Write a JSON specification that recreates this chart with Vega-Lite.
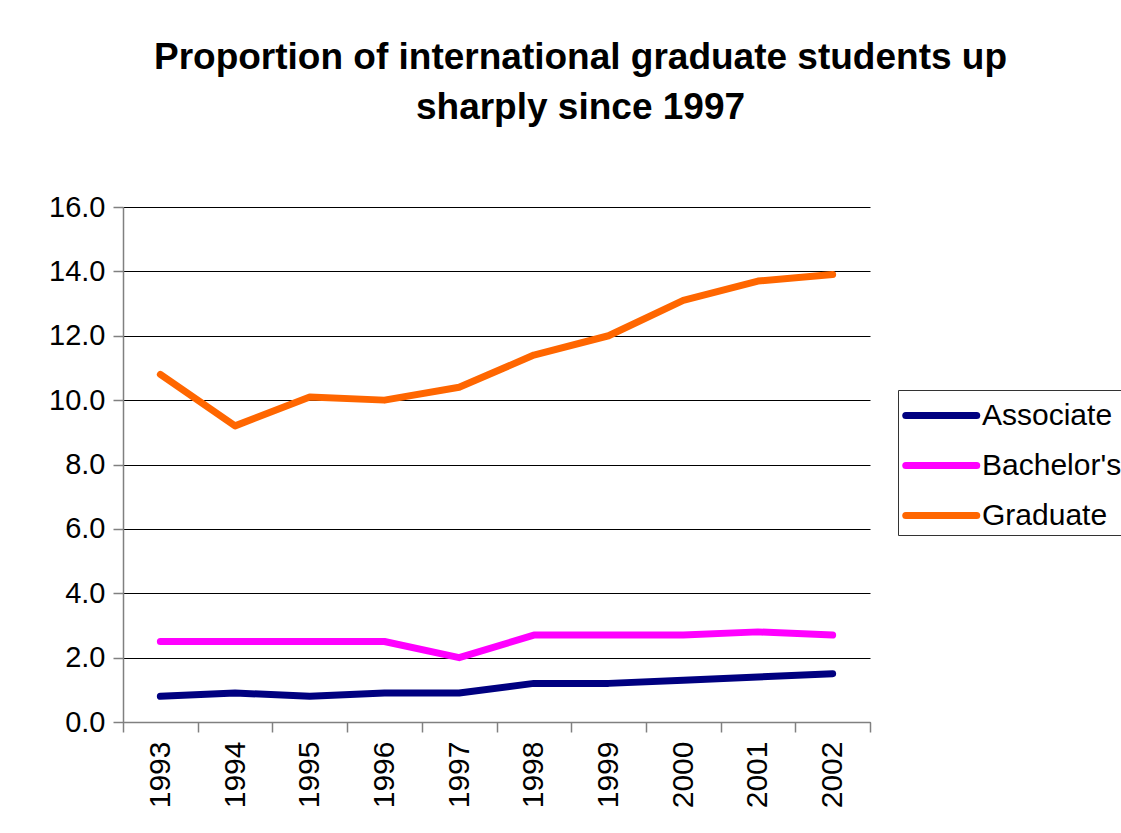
{
  "$schema": "https://vega.github.io/schema/vega-lite/v6.json",
  "autosize": {"type": "none"},
  "width": 747,
  "height": 515,
  "padding": {"left": 123, "top": 207, "right": 251, "bottom": 111},
  "background": "white",
  "title": {
    "text": ["Proportion of international graduate students up", "sharply since 1997"],
    "font": "Liberation Sans",
    "fontSize": 37,
    "fontWeight": "bold",
    "color": "black",
    "anchor": "middle",
    "frame": "group",
    "dx": 84,
    "lineHeight": 50,
    "offset": 66
  },
  "data": {
    "values": [
      {"year": "1993", "level": "Associate", "pct": 0.8},
      {"year": "1994", "level": "Associate", "pct": 0.9},
      {"year": "1995", "level": "Associate", "pct": 0.8},
      {"year": "1996", "level": "Associate", "pct": 0.9},
      {"year": "1997", "level": "Associate", "pct": 0.9},
      {"year": "1998", "level": "Associate", "pct": 1.2},
      {"year": "1999", "level": "Associate", "pct": 1.2},
      {"year": "2000", "level": "Associate", "pct": 1.3},
      {"year": "2001", "level": "Associate", "pct": 1.4},
      {"year": "2002", "level": "Associate", "pct": 1.5},
      {"year": "1993", "level": "Bachelor's", "pct": 2.5},
      {"year": "1994", "level": "Bachelor's", "pct": 2.5},
      {"year": "1995", "level": "Bachelor's", "pct": 2.5},
      {"year": "1996", "level": "Bachelor's", "pct": 2.5},
      {"year": "1997", "level": "Bachelor's", "pct": 2.0},
      {"year": "1998", "level": "Bachelor's", "pct": 2.7},
      {"year": "1999", "level": "Bachelor's", "pct": 2.7},
      {"year": "2000", "level": "Bachelor's", "pct": 2.7},
      {"year": "2001", "level": "Bachelor's", "pct": 2.8},
      {"year": "2002", "level": "Bachelor's", "pct": 2.7},
      {"year": "1993", "level": "Graduate", "pct": 10.8},
      {"year": "1994", "level": "Graduate", "pct": 9.2},
      {"year": "1995", "level": "Graduate", "pct": 10.1},
      {"year": "1996", "level": "Graduate", "pct": 10.0},
      {"year": "1997", "level": "Graduate", "pct": 10.4},
      {"year": "1998", "level": "Graduate", "pct": 11.4},
      {"year": "1999", "level": "Graduate", "pct": 12.0},
      {"year": "2000", "level": "Graduate", "pct": 13.1},
      {"year": "2001", "level": "Graduate", "pct": 13.7},
      {"year": "2002", "level": "Graduate", "pct": 13.9}
    ]
  },
  "mark": {"type": "line", "strokeWidth": 7, "strokeCap": "round", "strokeJoin": "round"},
  "encoding": {
    "x": {
      "field": "year",
      "type": "ordinal",
      "scale": {"type": "band", "paddingInner": 0, "paddingOuter": 0},
      "axis": {
        "title": null,
        "tickBand": "extent",
        "labelAngle": 270,
        "labelAlign": "right",
        "labelBaseline": "middle",
        "labelFont": "Liberation Sans",
        "labelFontSize": 30,
        "labelColor": "black",
        "labelPadding": 9,
        "tickSize": 10,
        "tickColor": "#808080",
        "domainColor": "#808080",
        "tickWidth": 1.5,
        "domainWidth": 1.5,
        "grid": false
      }
    },
    "y": {
      "field": "pct",
      "type": "quantitative",
      "scale": {"domain": [0, 16]},
      "axis": {
        "title": null,
        "values": [0, 2, 4, 6, 8, 10, 12, 14, 16],
        "format": ".1f",
        "labelFont": "Liberation Sans",
        "labelFontSize": 29,
        "labelColor": "black",
        "labelPadding": 8,
        "tickSize": 10,
        "tickColor": "#808080",
        "domainColor": "#808080",
        "tickWidth": 1.5,
        "domainWidth": 1.5,
        "grid": true,
        "gridColor": "black",
        "gridOpacity": 1,
        "gridWidth": 1
      }
    },
    "color": {
      "field": "level",
      "type": "nominal",
      "scale": {"domain": ["Associate", "Bachelor's", "Graduate"], "range": ["#000080", "#FF00FF", "#FF6600"]},
      "legend": {
        "title": null,
        "orient": "none",
        "legendX": 775,
        "legendY": 183,
        "strokeColor": "#333333",
        "padding": 4,
        "symbolType": "M-1,0H3",
        "symbolSize": 1260,
        "symbolStrokeWidth": 7,
        "labelFont": "Liberation Sans",
        "labelFontSize": 30,
        "labelColor": "black",
        "labelOffset": 37,
        "rowPadding": 13,
        "encode": {"symbols": {"update": {"strokeCap": {"value": "round"}}}}
      }
    }
  },
  "config": {
    "view": {"stroke": null}
  }
}
